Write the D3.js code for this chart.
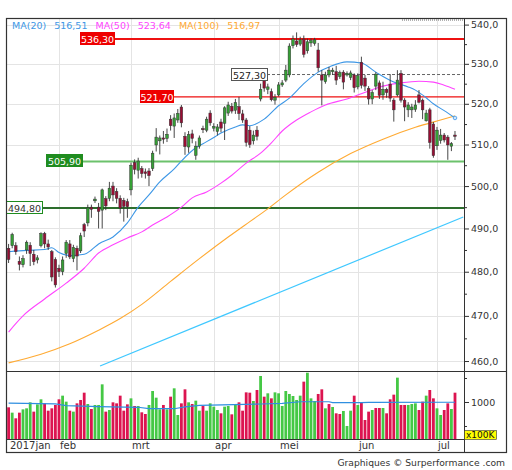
<!DOCTYPE html>
<html>
<head>
<meta charset="utf-8">
<script src="https://cdn.jsdelivr.net/npm/d3@7"></script>
<style>
  body { margin: 0; background: #fff; }
  svg { display: block; font-family: "DejaVu Sans", Verdana, sans-serif; }
</style>
</head>
<body>
<svg id="chart" width="512" height="470"></svg>
<script>
// -------------------------
// Data
// -------------------------
const months = ["2017jan", "feb", "mrt", "apr", "mei", "jun", "jul"];
const monthStart = [0, 14, 34, 57, 75, 97, 119]; // bar index of first day shown in each month

const open = [485.4,486.0,486.0,482.4,481.6,485.0,486.1,484.0,482.7,486.0,
488.8,486.4,484.6,482.8,480.8,480.0,484.2,486.4,483.0,485.4,
484.8,490.9,491.3,495.0,496.5,495.0,494.3,497.0,497.1,500.0,
498.7,497.1,496.6,496.3,499.1,505.6,503.8,504.2,503.4,503.6,
504.2,509.9,510.9,511.6,511.5,516.2,514.5,516.0,519.2,512.0,
509.4,512.6,507.4,509.6,513.9,513.5,517.7,514.0,513.2,515.5,
515.2,517.7,519.4,518.4,519.3,517.5,516.0,513.5,510.9,513.5,
521.2,525.9,523.6,523.0,520.9,522.2,524.7,525.9,527.2,534.6,
535.8,535.0,536.3,533.3,535.3,535.2,533.5,527.2,525.5,527.2,
528.0,528.0,526.8,527.9,527.2,526.6,527.2,524.2,530.4,526.4,
523.8,521.2,524.4,525.2,522.2,523.6,524.9,520.9,522.2,527.6,
520.9,518.5,518.5,518.6,522.2,520.9,515.8,518.5,515.0,509.7,
511.0,512.3,511.8,509.6,512.3];

const high = [486.4,489.0,486.8,483.5,483.8,487.2,486.8,485.0,483.8,489.1,
489.2,487.4,485.0,483.3,481.6,483.5,487.3,487.3,486.2,486.0,
489.0,491.3,495.6,495.6,497.5,496.0,499.4,497.6,501.0,501.0,
499.5,497.8,497.2,497.0,505.6,506.4,506.8,504.8,504.2,504.3,
508.5,514.0,512.2,513.3,513.9,517.2,517.6,518.7,519.7,513.0,
513.3,513.6,510.8,512.2,514.6,516.8,518.4,515.2,515.0,516.3,
519.4,520.5,520.2,521.2,521.7,518.5,516.5,514.5,513.4,514.5,
525.0,526.6,525.0,523.8,522.4,525.4,525.9,529.7,535.2,537.2,
538.0,536.9,537.2,536.4,536.5,536.6,535.3,528.4,528.0,529.2,
529.0,529.5,528.3,528.4,528.1,528.3,527.6,527.6,531.8,527.2,
524.4,523.4,527.9,525.8,525.5,524.0,527.4,521.4,528.4,528.4,
521.4,520.4,520.0,520.9,523.4,521.3,518.5,519.0,515.5,514.3,
513.8,512.8,512.3,510.6,513.3];

const low = [482.0,485.4,483.9,480.3,481.0,484.1,481.3,481.5,481.9,485.6,
485.4,485.0,477.8,476.4,478.8,479.2,483.2,482.9,482.2,480.3,
484.3,488.0,490.5,492.5,496.0,490.0,490.0,494.3,496.4,496.4,
495.9,493.5,491.6,492.5,497.8,502.8,501.8,502.0,501.8,500.0,
503.6,508.3,507.6,510.2,510.6,513.4,511.6,515.3,514.2,507.5,
508.0,510.3,506.3,509.0,512.8,513.0,514.6,513.2,512.2,513.0,
511.1,517.0,517.6,517.5,516.0,515.3,509.5,509.2,510.0,511.0,
520.6,523.0,522.4,520.6,519.8,521.8,524.2,525.4,526.6,533.9,
534.3,534.5,531.6,532.6,534.3,534.6,528.0,519.6,525.0,526.6,
527.2,524.7,526.2,523.6,526.8,525.9,522.8,523.6,523.8,523.2,
519.8,519.9,523.4,521.2,521.0,521.5,520.5,515.6,521.8,520.3,
515.7,516.7,516.5,518.0,520.1,516.2,515.6,509.0,506.8,508.7,
510.2,510.5,506.3,508.4,511.1];

const close = [482.8,488.6,484.6,481.7,483.0,486.8,484.2,482.3,483.2,488.8,
486.4,485.7,478.8,477.0,480.0,482.7,486.8,483.4,485.6,483.6,
488.3,489.4,494.8,494.5,496.9,494.0,499.1,495.3,499.5,497.9,
497.1,494.8,495.2,495.1,505.0,504.0,506.0,503.0,503.0,502.5,
507.9,511.8,511.6,511.3,512.5,514.6,516.5,517.6,515.3,509.5,
512.4,511.5,509.6,511.6,513.6,516.2,515.3,514.4,514.3,514.0,
519.0,519.7,518.2,520.3,517.6,516.0,510.5,510.0,512.3,512.0,
523.6,523.9,524.2,521.0,521.6,524.7,525.2,528.4,534.5,536.3,
534.9,536.1,532.4,535.6,535.9,536.1,529.0,525.9,527.2,528.4,
528.4,525.9,527.8,525.4,527.6,527.7,524.0,527.0,524.6,524.4,
521.2,522.8,527.4,522.1,523.6,522.8,521.4,518.5,525.9,520.9,
519.2,519.7,519.2,519.7,520.4,518.5,517.7,510.5,507.3,513.5,
512.3,511.1,509.9,510.2,512.0];

// volume in units of 100K
const volume = [889,778,660,778,847,868,993,799,951,1056,
972,819,868,938,1056,1132,1007,819,799,972,
1042,1194,958,854,938,938,1368,799,833,993,
972,1132,819,951,1076,917,917,785,750,938,
1229,1090,847,938,847,1111,1285,729,972,1264,
993,958,1028,819,917,819,972,903,833,764,
903,917,743,958,993,819,1201,1194,1021,1250,
1542,1111,1181,1076,1201,1181,917,1229,1167,1125,
1042,1132,1424,1610,1076,1021,1167,1264,868,958,
896,764,750,813,500,819,1132,938,986,625,
799,833,875,875,875,764,1056,1153,1507,938,
938,938,958,972,833,1007,1132,1250,1076,868,
729,833,972,854,1194];

// 1 = green volume bar, 0 = red
const volumeUp = [0,1,0,0,1,1,1,0,1,1,
0,0,0,0,0,1,1,0,1,0,
0,0,1,0,1,1,1,0,1,0,
0,0,0,0,1,0,1,0,0,1,
1,1,1,0,1,0,1,1,0,0,
1,0,1,1,0,1,1,1,1,0,
1,1,0,1,0,0,0,0,1,0,
1,0,1,0,1,1,1,1,1,1,
1,1,0,1,1,1,0,0,1,0,
1,0,0,1,1,1,0,1,0,0,
0,1,0,0,1,0,0,0,1,0,
0,1,1,1,0,0,1,0,0,1,
1,0,0,1,0];

// moving averages as [bar index, value]
const ma20 = [[0,484.6],[5,484.9],[10,485.1],[12,485.5],[14,484.4],[17,483.7],[21,484.0],
[23,485.0],[25,486.4],[29,488.0],[33,491.3],[36,495.0],[39,497.9],[42,501.0],[46,504.1],
[48,506.0],[52,509.2],[54,510.2],[57,511.7],[59,512.8],[63,514.3],[65,514.8],[67,514.6],
[71,516.2],[75,519.5],[78,521.4],[82,525.0],[86,527.9],[89,529.2],[94,530.5],[98,530.2],
[102,527.9],[107,525.4],[111,524.2],[113,523.4],[116,521.5],[118,520.0],[121,518.3],[124,516.5]];

const ma50 = [[0,466.4],[4,470.0],[10,473.8],[16,477.4],[21,480.8],[25,484.3],[29,486.2],
[33,487.8],[37,489.2],[40,490.8],[44,492.7],[48,495.0],[51,497.2],[55,498.6],[59,500.7],
[62,502.6],[66,505.5],[70,507.9],[73,510.4],[76,513.3],[80,516.0],[84,518.0],[88,519.7],
[94,521.2],[100,523.2],[104,524.4],[109,525.2],[114,525.6],[118,525.4],[121,524.6],[124,523.6]];

const ma100 = [[0,459.6],[9,461.5],[17,463.8],[25,466.8],[31,469.4],[37,472.6],[45,477.8],
[53,483.0],[61,488.0],[67,491.6],[72,494.6],[77,497.9],[86,503.3],[95,507.8],[104,511.3],
[113,514.2],[120,516.0],[124,517.0]];

const volMA = [[0,975],[13,960],[16,925],[25,905],[36,890],[39,862],[46,860],[49,900],
[53,930],[70,958],[76,972],[81,1005],[89,1005],[90,988],[98,986],[100,993],[124,995]];

const trendLine = [[25.4,458.9],[126.3,492.7]];

const levels = [536.3, 527.3, 521.7, 505.9, 494.8];
const levelLabels = ["536,30", "527,30", "521,70", "505,90", "494,80"];

const legendNames = ["MA(20)", "MA(50)", "MA(100)"];
const legendValues = ["516,51", "523,64", "516,97"];

const priceTicks = [460, 470, 480, 490, 500, 510, 520, 530, 540];
const priceMinor = [465, 475, 485, 495, 505, 515, 525, 535];
const volTicks = [500, 1000, 1500];

// -------------------------
// Layout & styles
// -------------------------
const plot = { left: 6, right: 464, top: 18, priceBottom: 372, volBottom: 439, frameRight: 507, frameBottom: 453 };
const maColors = ["#3d97e6", "#ff44ff", "#ffaa33"];
const levelStyles = [
	{ boxX: 80, boxW: 34, fill: "#ee0000", border: "#ee0000", text: "#fff", line: "#ee1111", width: 2.2, dash: null },
	{ boxX: 231, boxW: 36, fill: "#fff", border: "#555", text: "#222", line: "#666", width: 1, dash: "3,2" },
	{ boxX: 140, boxW: 33, fill: "#ee0000", border: "#ee0000", text: "#fff", line: "#ee1111", width: 1.3, dash: null },
	{ boxX: 46, boxW: 36, fill: "#1f8c1f", border: "#1f8c1f", text: "#fff", line: "#6cc26c", width: 2, dash: null },
	{ boxX: 6, boxW: 36, fill: "#fff", border: "#1f8c1f", text: "#333", line: "#2d6e2d", width: 2, dash: null }
];

const svg = d3.select("#chart");

const x = d3.scaleLinear().domain([-0.72, 126.5]).range([plot.left, plot.right]);
const y = d3.scaleLog().domain([457.6, 541.7]).range([plot.priceBottom, plot.top]);
const yVol = d3.scaleLinear().domain([229, 1625]).range([plot.volBottom, plot.priceBottom]);

const fmt = (v, n) => v.toFixed(n).replace(".", ",");
const idx = d3.range(close.length);

// --- clip paths ---
const defs = svg.append("defs");
defs.append("clipPath").attr("id", "clipPrice").append("rect")
	.attr("x", plot.left).attr("y", plot.top)
	.attr("width", plot.right - plot.left).attr("height", plot.priceBottom - plot.top);
defs.append("clipPath").attr("id", "clipVol").append("rect")
	.attr("x", plot.left).attr("y", plot.priceBottom)
	.attr("width", plot.right - plot.left).attr("height", plot.volBottom - plot.priceBottom);

// --- grid ---
const grid = svg.append("g").attr("stroke", "#e4e4e4").attr("stroke-width", 1);
grid.selectAll("line.h")
	.data(priceTicks)
	.join("line")
	.attr("class", "h")
	.attr("x1", plot.left).attr("x2", plot.right)
	.attr("y1", (d) => Math.round(y(d)) + 0.5).attr("y2", (d) => Math.round(y(d)) + 0.5);
grid.selectAll("line.v")
	.data(monthStart.slice(1))
	.join("line")
	.attr("class", "v")
	.attr("x1", (d) => Math.round(x(d)) + 0.5).attr("x2", (d) => Math.round(x(d)) + 0.5)
	.attr("y1", plot.top).attr("y2", plot.volBottom);

// --- horizontal levels ---
const priceLayer = svg.append("g").attr("clip-path", "url(#clipPrice)");
levels.forEach((lv, k) => {
	const s = levelStyles[k];
	priceLayer.append("line")
		.attr("x1", s.boxX + s.boxW).attr("x2", plot.right)
		.attr("y1", y(lv)).attr("y2", y(lv))
		.attr("stroke", s.line).attr("stroke-width", s.width)
		.attr("stroke-dasharray", s.dash);
});

// --- trend line ---
const line = d3.line().x((d) => x(d[0])).y((d) => y(d[1]));
priceLayer.append("path")
	.attr("d", line(trendLine))
	.attr("fill", "none").attr("stroke", "#3fc8ff").attr("stroke-width", 1.2);

// --- moving averages ---
const maLine = d3.line().x((d) => x(d[0])).y((d) => y(d[1])).curve(d3.curveMonotoneX);
[ma100, ma50, ma20].forEach((ma, k) => {
	priceLayer.append("path")
		.attr("d", maLine(ma))
		.attr("fill", "none")
		.attr("stroke", maColors[2 - k])
		.attr("stroke-width", 1.1);
});

// --- candles ---
const candles = priceLayer.append("g");
candles.selectAll("line")
	.data(idx)
	.join("line")
	.attr("x1", (i) => x(i)).attr("x2", (i) => x(i))
	.attr("y1", (i) => y(high[i])).attr("y2", (i) => y(low[i]))
	.attr("stroke", "#333").attr("stroke-width", 0.9);
candles.selectAll("rect")
	.data(idx)
	.join("rect")
	.attr("x", (i) => x(i) - 1.3)
	.attr("width", 2.6)
	.attr("y", (i) => y(Math.max(open[i], close[i])))
	.attr("height", (i) => Math.max(1, y(Math.min(open[i], close[i])) - y(Math.max(open[i], close[i]))))
	.attr("fill", (i) => (close[i] >= open[i] ? "#35a035" : "#990d33"))
	.attr("stroke", "#333").attr("stroke-width", 0.5);

// last-value marker on MA(20)
const lastMA = ma20[ma20.length - 1];
priceLayer.append("circle")
	.attr("cx", x(lastMA[0])).attr("cy", y(lastMA[1])).attr("r", 1.8)
	.attr("fill", "#cfe6ff").attr("stroke", maColors[0]).attr("stroke-width", 0.8);

// --- level labels ---
levels.forEach((lv, k) => {
	const s = levelStyles[k];
	const cy = Math.round(y(lv));
	svg.append("rect")
		.attr("x", s.boxX + 0.5).attr("y", cy - 6.5)
		.attr("width", s.boxW).attr("height", 12)
		.attr("fill", s.fill).attr("stroke", s.border).attr("stroke-width", 1);
	svg.append("text")
		.attr("x", s.boxX + s.boxW / 2 + 0.5).attr("y", cy + 4)
		.attr("text-anchor", "middle")
		.attr("font-size", 9.5).attr("fill", s.text)
		.text(levelLabels[k]);
});

// --- volume ---
const volLayer = svg.append("g").attr("clip-path", "url(#clipVol)");
volLayer.selectAll("rect")
	.data(idx)
	.join("rect")
	.attr("x", (i) => x(i) - 1.4)
	.attr("width", 2.8)
	.attr("y", (i) => yVol(volume[i]))
	.attr("height", (i) => plot.volBottom - yVol(volume[i]))
	.attr("fill", (i) => (volumeUp[i] ? "#45c845" : "#dc1450"));
volLayer.append("path")
	.attr("d", d3.line().x((d) => x(d[0])).y((d) => yVol(d[1]))(volMA))
	.attr("fill", "none").attr("stroke", "#2f8fe0").attr("stroke-width", 1.2);

// --- frames ---
const frame = svg.append("g").attr("stroke", "#333").attr("fill", "none");
frame.append("rect")
	.attr("x", plot.left + 0.5).attr("y", plot.top + 0.5)
	.attr("width", plot.frameRight - plot.left - 1).attr("height", plot.frameBottom - plot.top - 1)
	.attr("stroke-width", 1.2);
frame.append("line")
	.attr("x1", plot.right + 0.5).attr("x2", plot.right + 0.5)
	.attr("y1", plot.top).attr("y2", plot.frameBottom);
frame.append("line")
	.attr("x1", plot.left).attr("x2", plot.frameRight)
	.attr("y1", plot.priceBottom - 0.5).attr("y2", plot.priceBottom - 0.5);
frame.append("line")
	.attr("x1", plot.left).attr("x2", plot.right)
	.attr("y1", plot.volBottom + 0.5).attr("y2", plot.volBottom + 0.5);
frame.append("line")
	.attr("x1", 402).attr("x2", plot.right)
	.attr("y1", plot.top + 2).attr("y2", plot.top + 2)
	.attr("stroke", "#666").attr("stroke-dasharray", "1,1");

// --- price axis ---
const styleAxis = (g) => {
	g.select(".domain").remove();
	g.selectAll(".tick line").attr("stroke", "#333");
	g.selectAll(".tick text").attr("fill", "#333").attr("font-size", 9.5)
		.attr("font-family", "DejaVu Sans, Verdana, sans-serif");
};
svg.append("g")
	.attr("transform", `translate(${plot.right},0)`)
	.call(d3.axisRight(y).tickValues(priceTicks).tickSize(5).tickPadding(2).tickFormat((d) => fmt(d, 1)))
	.call(styleAxis);
svg.append("g")
	.attr("transform", `translate(${plot.right},0)`)
	.call(d3.axisRight(y).tickValues(priceMinor).tickSize(3).tickFormat(""))
	.call(styleAxis);

// --- volume axis ---
svg.append("g")
	.attr("transform", `translate(${plot.right},0)`)
	.call(d3.axisRight(yVol).tickValues(volTicks).tickSize(5).tickPadding(2)
		.tickFormat((d) => (d === 1000 ? "1000" : "")))
	.call(styleAxis)
	.call((g) => g.selectAll(".tick line").attr("x2", (d) => (d === 1000 ? 5 : 3)));

svg.append("rect")
	.attr("x", plot.right + 0.5).attr("y", 430.5).attr("width", 32).attr("height", 9)
	.attr("fill", "#ffff00").attr("stroke", "#333").attr("stroke-width", 0.6);
svg.append("text")
	.attr("x", plot.right + 2).attr("y", 438)
	.attr("font-size", 9).attr("fill", "#111")
	.text("x100K");

// --- month labels ---
svg.append("g")
	.selectAll("text")
	.data(months)
	.join("text")
	.attr("x", (d, k) => (k === 0 ? 10 : Math.round(x(monthStart[k])) + 1))
	.attr("y", 449)
	.attr("font-size", 10).attr("fill", "#333")
	.text((d) => d);

// --- legend ---
let lx = 12;
legendNames.forEach((name, k) => {
	const t1 = svg.append("text").attr("x", lx).attr("y", 29)
		.attr("font-size", 9.5).attr("fill", maColors[k]).text(name);
	lx += t1.node().getComputedTextLength() + 8;
	const t2 = svg.append("text").attr("x", lx).attr("y", 29)
		.attr("font-size", 9.5).attr("fill", maColors[k]).text(legendValues[k]);
	lx += t2.node().getComputedTextLength() + 8;
});

// --- credits ---
svg.append("text")
	.attr("x", 505).attr("y", 466)
	.attr("text-anchor", "end")
	.attr("font-size", 9.2).attr("fill", "#333")
	.text("Graphiques © Surperformance .com");
</script>
</body>
</html>
